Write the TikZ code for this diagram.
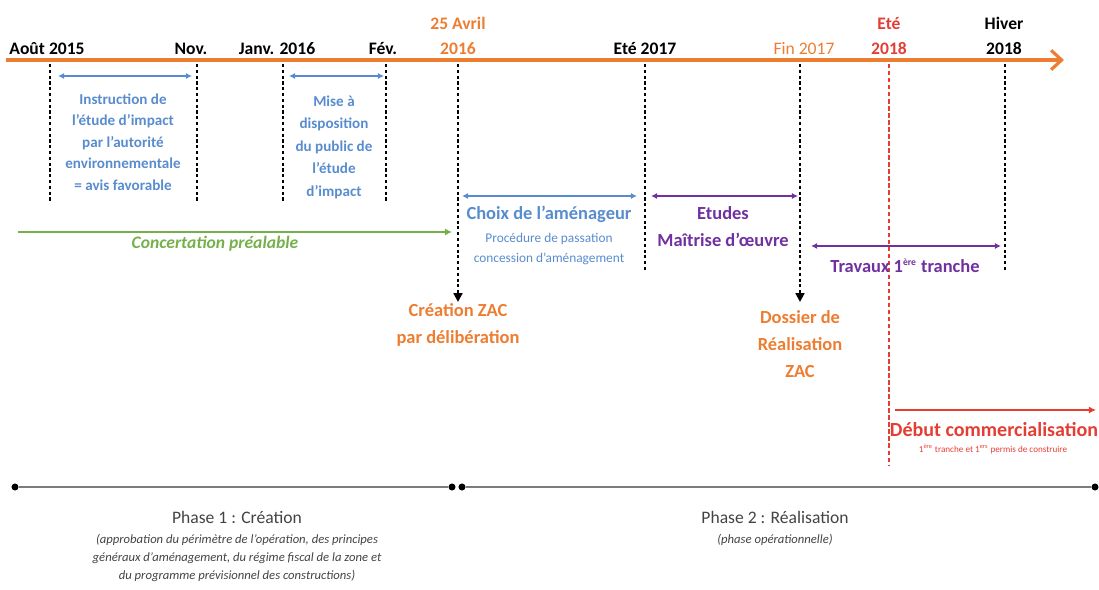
\documentclass[tikz,border=0pt]{standalone}
\usepackage{fontspec}
\setmainfont{Carlito}
\usetikzlibrary{arrows.meta}

\definecolor{orangeaxe}{RGB}{237,125,49}
\definecolor{bleuetape}{RGB}{88,140,206}
\definecolor{vertconc}{RGB}{118,176,76}
\definecolor{violetetude}{RGB}{112,48,160}
\definecolor{rougecom}{RGB}{228,62,52}
\definecolor{grisphase}{RGB}{70,66,68}

\tikzset{
  datelbl/.style={font=\bfseries\fontsize{10}{14.5}\selectfont, align=center, anchor=south, inner sep=1pt},
  jalon/.style={black, line width=1.2pt, dash pattern=on 1.8pt off 1.5pt},
  fleche/.style={line width=0.9pt, {Latex[length=3.5pt,width=3.5pt]}-{Latex[length=3.5pt,width=3.5pt]}},
  etape/.style={font=\bfseries\fontsize{10.5}{15}\selectfont, align=center, inner sep=0pt},
  detail/.style={font=\fontsize{7.6}{12}\selectfont, align=center, inner sep=0pt},
  point/.style={circle, fill=black, inner sep=0pt, minimum size=4pt}
}
\newcommand{\expo}[1]{\textsuperscript{\fontsize{5.5}{6}\selectfont #1}}

\begin{document}
\begin{tikzpicture}[x=0.02cm, y=-0.02cm]
  \useasboundingbox (0,0) rectangle (1099,590);

  % Axe du temps
  \coordinate (debut) at (6,60);
  \coordinate (fin) at (1064,60);
  \draw[orangeaxe, line width=1.8pt, -{Straight Barb[length=6pt,width=11pt]}] (debut) -- (fin);

  % Dates
  \node[datelbl] (aout) at (47,57) {Août 2015};
  \node[datelbl] (nov) at (191,57) {Nov.};
  \node[datelbl] (janv) at (277,57) {Janv. 2016};
  \node[datelbl] (fev) at (383,57) {Fév.};
  \node[datelbl, orangeaxe] (avril) at (458,57) {25 Avril\\2016};
  \node[datelbl] (ete17) at (645,57) {Eté 2017};
  \node[datelbl, orangeaxe, font=\fontsize{10}{14}\selectfont] (fin17) at (804,57) {Fin 2017};
  \node[datelbl, rougecom] (ete18) at (889,57) {Eté\\2018};
  \node[datelbl] (hiver) at (1004,57) {Hiver\\2018};

  % Jalons
  \foreach \nom/\x in {aout/50, nov/197, janv/283, fev/386} {
    \coordinate (h\nom) at (\x,64);
    \coordinate (b\nom) at (\x,202);
    \draw[jalon] (h\nom) -- (b\nom);
  }
  \coordinate (havril) at (458,64);
  \coordinate (bavril) at (458,302);
  \draw[jalon, -{Triangle[length=5pt,width=5pt]}] (havril) -- (bavril);
  \coordinate (hete17) at (645,64);
  \coordinate (bete17) at (645,270);
  \draw[jalon] (hete17) -- (bete17);
  \coordinate (hfin17) at (800,64);
  \coordinate (bfin17) at (800,302);
  \draw[jalon, -{Triangle[length=5pt,width=5pt]}] (hfin17) -- (bfin17);
  \coordinate (hhiver) at (1005,64);
  \coordinate (bhiver) at (1005,270);
  \draw[jalon] (hhiver) -- (bhiver);
  \coordinate (hete18) at (889,64);
  \coordinate (bete18) at (889,466);
  \draw[rougecom, line width=0.6pt, dash pattern=on 2.5pt off 1.5pt] (hete18) -- (bete18);

  % Etude d'impact
  \coordinate (i1) at (58,76);
  \coordinate (i2) at (192,76);
  \draw[fleche, bleuetape] (i1) -- (i2);
  \node[detail, bleuetape, font=\bfseries\fontsize{8.6}{12.2}\selectfont] (instruction) at (123,142)
    {Instruction de\\l'étude d'impact\\par l'autorité\\environnementale\\= avis favorable};
  \coordinate (m1) at (289,76);
  \coordinate (m2) at (384,76);
  \draw[fleche, bleuetape] (m1) -- (m2);
  \node[detail, bleuetape, font=\bfseries\fontsize{8.6}{12.8}\selectfont] (mise) at (334,147)
    {Mise à\\disposition\\du public de\\l'étude\\d'impact};

  % Concertation
  \coordinate (c1) at (18,232);
  \coordinate (c2) at (452,232);
  \draw[vertconc, line width=0.6pt, -{Latex[length=4pt,width=4pt]}] (c1) -- (c2);
  \node[vertconc, font=\bfseries\itshape\fontsize{10}{12}\selectfont] (concertation) at (215,244) {Concertation préalable};

  % Choix de l'amenageur
  \coordinate (a1) at (462,196);
  \coordinate (a2) at (637,196);
  \draw[fleche, bleuetape] (a1) -- (a2);
  \node[etape, bleuetape] (choix) at (549,214) {Choix de l'aménageur};
  \node[detail, bleuetape] (procedure) at (549,239) {Procédure de passation};
  \node[detail, bleuetape] (concession) at (549,259) {concession d'aménagement};

  % Etudes
  \coordinate (e1) at (651,196);
  \coordinate (e2) at (798,196);
  \draw[fleche, violetetude] (e1) -- (e2);
  \node[etape, violetetude] (etudes) at (723,213) {Etudes};
  \node[etape, violetetude] (moe) at (723,240) {Maîtrise d'œuvre};

  % Travaux
  \coordinate (t1) at (811,246);
  \coordinate (t2) at (1001,246);
  \draw[fleche, violetetude] (t1) -- (t2);
  \node[etape, violetetude] (travaux) at (905,266) {Travaux 1\expo{ère} tranche};

  % Decisions ZAC
  \node[etape, orangeaxe, font=\bfseries\fontsize{10.5}{15.4}\selectfont] (creation) at (458,325) {Création ZAC\\par délibération};
  \node[etape, orangeaxe, font=\bfseries\fontsize{10.5}{15.4}\selectfont] (dossier) at (800,344) {Dossier de\\Réalisation\\ZAC};

  % Commercialisation
  \coordinate (r1) at (895,410);
  \coordinate (r2) at (1096,410);
  \draw[rougecom, line width=1.1pt, -{Latex[length=4pt,width=4pt]}] (r1) -- (r2);
  \node[etape, rougecom, font=\bfseries\fontsize{11.4}{14}\selectfont] (debutcom) at (994,430) {Début commercialisation};
  \node[detail, rougecom, font=\fontsize{5.2}{7}\selectfont] (permis) at (993,449)
    {1\textsuperscript{ère} tranche et 1\textsuperscript{ers} permis de construire};

  % Phases
  \node[point] (p1) at (15,487) {};
  \node[point] (p2) at (452,487) {};
  \node[point] (p3) at (462,487) {};
  \node[point] (p4) at (1095,487) {};
  \draw[grisphase!70, line width=1.5pt] (p1) -- (p2);
  \draw[grisphase!70, line width=1.5pt] (p3) -- (p4);

  \node[grisphase, font=\fontsize{10}{12}\selectfont] (phase1) at (237,517) {Phase 1 : Création};
  \node[grisphase, detail, font=\itshape\fontsize{7.2}{10.4}\selectfont] (objet1) at (237,558)
    {(approbation du périmètre de l'opération, des principes\\généraux d'aménagement, du régime fiscal de la zone et\\du programme prévisionnel des constructions)};
  \node[grisphase, font=\fontsize{10}{12}\selectfont] (phase2) at (775,517) {Phase 2 : Réalisation};
  \node[grisphase, detail, font=\itshape\fontsize{7.2}{10.4}\selectfont] (objet2) at (775,540) {(phase opérationnelle)};
\end{tikzpicture}
\end{document}
